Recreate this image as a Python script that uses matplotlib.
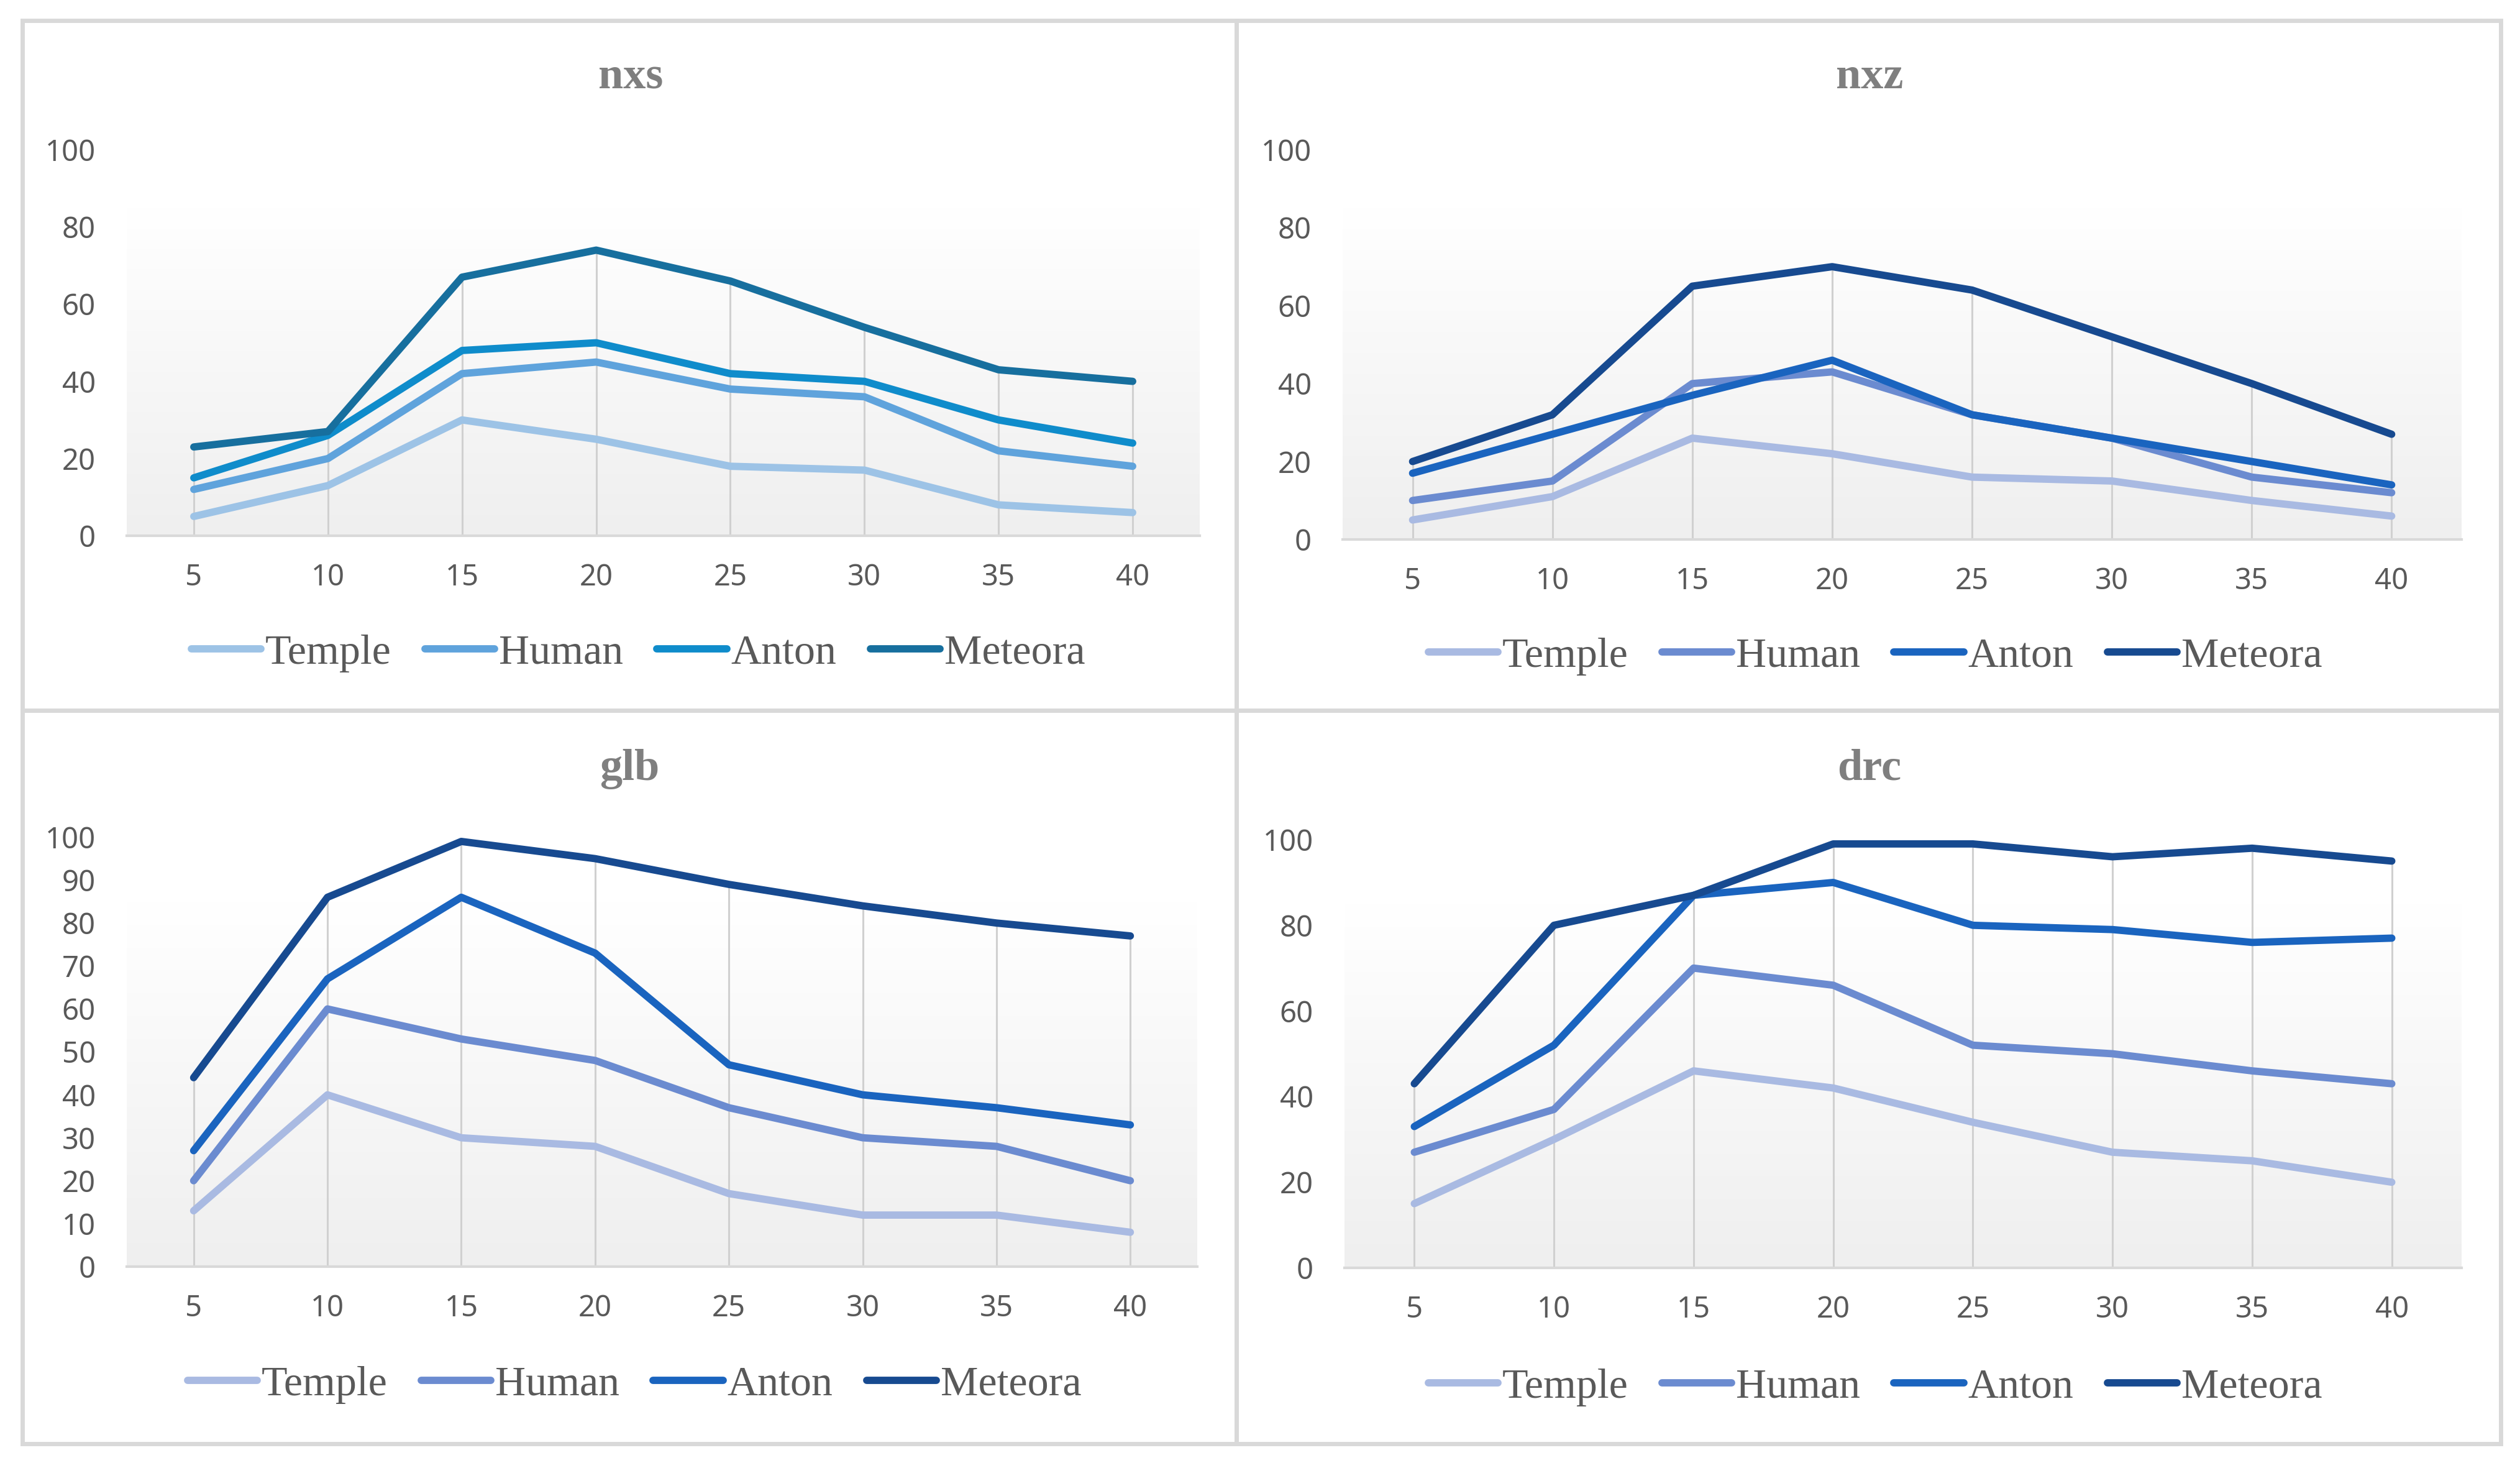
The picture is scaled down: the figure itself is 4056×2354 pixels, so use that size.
import numpy as np
import matplotlib
matplotlib.use('Agg')
import matplotlib.pyplot as plt
from matplotlib.patches import Rectangle
from matplotlib.colors import to_rgb

# data
x_labels = ['5', '10', '15', '20', '25', '30', '35', '40']
series_names = ['Temple', 'Human', 'Anton', 'Meteora']

nxs_temple = [5, 13, 30, 25, 18, 17, 8, 6]
nxs_human = [12, 20, 42, 45, 38, 36, 22, 18]
nxs_anton = [15, 26, 48, 50, 42, 40, 30, 24]
nxs_meteora = [23, 27, 67, 74, 66, 54, 43, 40]

nxz_temple = [5, 11, 26, 22, 16, 15, 10, 6]
nxz_human = [10, 15, 40, 43, 32, 26, 16, 12]
nxz_anton = [17, 27, 37, 46, 32, 26, 20, 14]
nxz_meteora = [20, 32, 65, 70, 64, 52, 40, 27]

glb_temple = [13, 40, 30, 28, 17, 12, 12, 8]
glb_human = [20, 60, 53, 48, 37, 30, 28, 20]
glb_anton = [27, 67, 86, 73, 47, 40, 37, 33]
glb_meteora = [44, 86, 99, 95, 89, 84, 80, 77]

drc_temple = [15, 30, 46, 42, 34, 27, 25, 20]
drc_human = [27, 37, 70, 66, 52, 50, 46, 43]
drc_anton = [33, 52, 87, 90, 80, 79, 76, 77]
drc_meteora = [43, 80, 87, 99, 99, 96, 98, 95]

colors_teal = ['#9DC3E6', '#5FA3DC', '#0F8CCB', '#176F9E']
colors_blue = ['#A9BAE2', '#6B8BD0', '#1A64BF', '#174A90']

W, H = 4056, 2354
fig = plt.figure(figsize=(W / 100, H / 100), dpi=100)
fig.patch.set_facecolor('white')

def fx(px):
    return px / W

def fy(py):
    return 1 - py / H

# panel borders
border = '#D9D9D9'
for (x0, y0, x1, y1) in [(36, 33, 1990, 1143), (1990, 33, 4025, 1143),
                         (36, 1143, 1990, 2323), (1990, 1143, 4025, 2323)]:
    fig.patches.append(Rectangle((fx(x0), fy(y1)), fx(x1) - fx(x0), fy(y0) - fy(y1),
                                 transform=fig.transFigure, fill=False,
                                 edgecolor=border, linewidth=5))

panels = [
    dict(title='nxs', data=[nxs_temple, nxs_human, nxs_anton, nxs_meteora],
         colors=colors_teal, box=(204, 241, 1931, 862), step=20,
         title_xy=(1015, 125), leg_xy=(1027, 1051)),
    dict(title='nxz', data=[nxz_temple, nxz_human, nxz_anton, nxz_meteora],
         colors=colors_blue, box=(2161, 241, 3962, 868), step=20,
         title_xy=(3009, 125), leg_xy=(3018, 1056)),
    dict(title='glb', data=[glb_temple, glb_human, glb_anton, glb_meteora],
         colors=colors_blue, box=(204, 1347, 1927, 2038), step=10,
         title_xy=(1013, 1237), leg_xy=(1021, 2228)),
    dict(title='drc', data=[drc_temple, drc_human, drc_anton, drc_meteora],
         colors=colors_blue, box=(2164, 1351, 3962, 2040), step=20,
         title_xy=(3009, 1237), leg_xy=(3018, 2232)),
]

# vertical gradient for the plot area (white top -> light grey bottom)
t = np.linspace(0, 1, 256)[:, None]
ramp = np.clip(t / 0.85, 0, 1)
top = np.array(to_rgb('#FFFFFF'))
bot = np.array(to_rgb('#EFEFEF'))
grad = (bot[None, :] * (1 - ramp) + top[None, :] * ramp)[::-1]
grad = np.repeat(grad[:, None, :], 2, axis=1)

xpos = np.arange(len(x_labels))
lw = 8.5

for p in panels:
    x0, y0, x1, y1 = p['box']
    ax = fig.add_axes([fx(x0), fy(y1), fx(x1) - fx(x0), fy(y0) - fy(y1)])
    ax.set_xlim(-0.5, len(x_labels) - 0.5)
    ax.set_ylim(0, 100)
    ax.imshow(grad, extent=[-0.5, len(x_labels) - 0.5, 0, 100], aspect='auto', zorder=0)

    # drop lines up to the highest series
    tops = np.max(np.array(p['data']), axis=0)
    ax.vlines(xpos, 0, tops, color='#D0D0D0', linewidth=2.2, zorder=1)

    for name, vals, c in zip(series_names, p['data'], p['colors']):
        ax.plot(xpos, vals, color=c, linewidth=lw, label=name,
                solid_capstyle='round', solid_joinstyle='round', zorder=3)

    for s in ['top', 'right', 'left']:
        ax.spines[s].set_visible(False)
    ax.spines['bottom'].set_color('#D9D9D9')
    ax.spines['bottom'].set_linewidth(3)
    ax.spines['bottom'].set_zorder(2)

    ax.set_xticks(xpos)
    ax.set_xticklabels(x_labels)
    ax.set_yticks(np.arange(0, 101, p['step']))
    ax.tick_params(axis='both', length=0, labelsize=34, labelcolor='#595959')
    ax.tick_params(axis='x', pad=32)
    ax.tick_params(axis='y', pad=36)
    for lab in ax.get_xticklabels() + ax.get_yticklabels():
        lab.set_fontfamily('Noto Sans')

    fig.text(fx(p['title_xy'][0]), fy(p['title_xy'][1]), p['title'],
             ha='center', va='center', fontsize=52, fontweight='bold',
             color='#7F7F7F', family='Liberation Serif')

    ax.legend(loc='center', bbox_to_anchor=(fx(p['leg_xy'][0]), fy(p['leg_xy'][1])),
              bbox_transform=fig.transFigure, ncol=4, frameon=False,
              prop={'family': 'Liberation Serif', 'size': 49},
              labelcolor='#595959', handlelength=1.65, handletextpad=0.1,
              columnspacing=0.8, borderpad=0)

fig.savefig('out.png', dpi=100, facecolor='white')
